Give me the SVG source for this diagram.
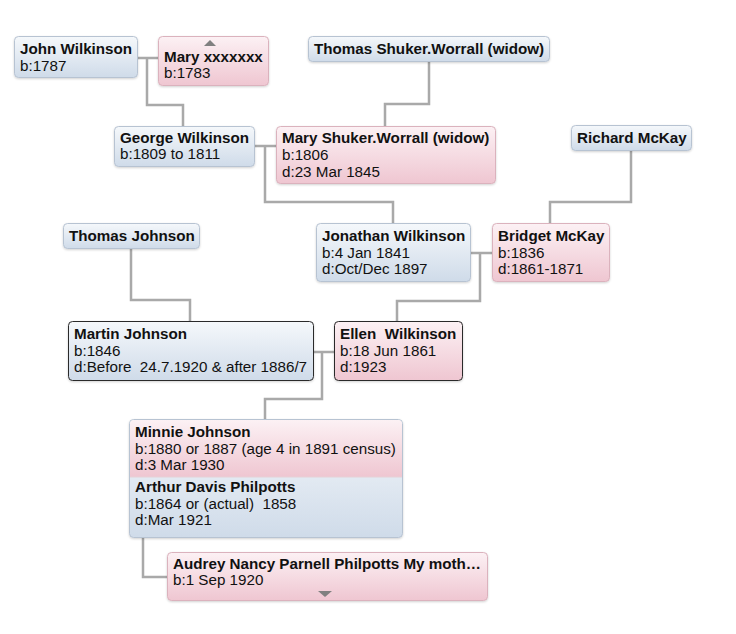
<svg xmlns="http://www.w3.org/2000/svg" width="736" height="634" viewBox="0 0 736 634">
<defs>
<linearGradient id="gb" x1="0" y1="0" x2="0" y2="1"><stop offset="0" stop-color="#f5f8fb"/><stop offset="1" stop-color="#cfdbe9"/></linearGradient>
<linearGradient id="gp" x1="0" y1="0" x2="0" y2="1"><stop offset="0" stop-color="#fcf1f4"/><stop offset="1" stop-color="#efc6d1"/></linearGradient>
<filter id="sh" x="-5%" y="-10%" width="110%" height="130%"><feDropShadow dx="0" dy="1" stdDeviation="0.8" flood-color="#000" flood-opacity="0.18"/></filter>
<style>
.b{fill:url(#gb);stroke:#b7c3d2;stroke-width:1;filter:url(#sh)}
.p{fill:url(#gp);stroke:#dbb2bd;stroke-width:1;filter:url(#sh)}
.sel{stroke:#2a2a2a}
text{font-family:"Liberation Sans",Arial,Helvetica,sans-serif;font-size:15.2px;fill:#111}
.n{font-weight:bold}
.c{fill:none;stroke:#a9a9a9;stroke-width:2.5}
.tri{fill:#808080}
</style>
</defs>
<rect width="736" height="634" fill="#ffffff"/>
<g id="connectors">
<path class="c" d="M137 58H158M147 58V105H183V126"/>
<path class="c" d="M429 62V104H385V126"/>
<path class="c" d="M254 146H276M265 146V202H393V223"/>
<path class="c" d="M631 151V202H550V223"/>
<path class="c" d="M470 253H492M480 253V301H397V321"/>
<path class="c" d="M131 249V300H190V321"/>
<path class="c" d="M313 352H334M322 352V399H265V419"/>
<path class="c" d="M143 538V577H167"/>
</g>
<g id="john"><rect class="b" x="14.5" y="36.5" width="123" height="41" rx="4"/><text x="20" y="54" class="n">John Wilkinson</text><text x="20" y="71">b:1787</text></g>
<g id="mary"><rect class="p" x="158.5" y="36.5" width="110" height="49" rx="4"/><path class="tri" d="M204 46L210 40L216 46Z"/><text x="164" y="62" class="n">Mary xxxxxxx</text><text x="164" y="78">b:1783</text></g>
<g id="thomas-shuker"><rect class="b" x="308.5" y="36.5" width="241" height="25" rx="4"/><text x="314" y="54" class="n">Thomas Shuker.Worrall (widow)</text></g>
<g id="george"><rect class="b" x="114.5" y="126.5" width="140" height="40" rx="4"/><text x="120" y="143" class="n">George Wilkinson</text><text x="120" y="159">b:1809 to 1811</text></g>
<g id="mary-shuker"><rect class="p" x="276.5" y="126.5" width="219" height="57" rx="4"/><text x="282" y="143" class="n">Mary Shuker.Worrall (widow)</text><text x="282" y="160">b:1806</text><text x="282" y="177">d:23 Mar 1845</text></g>
<g id="richard"><rect class="b" x="571.5" y="125.5" width="120" height="25" rx="4"/><text x="577" y="143" class="n">Richard McKay</text></g>
<g id="thomas-johnson"><rect class="b" x="63.5" y="223.5" width="136" height="25" rx="4"/><text x="69" y="241" class="n">Thomas Johnson</text></g>
<g id="jonathan"><rect class="b" x="316.5" y="223.5" width="154" height="58" rx="4"/><text x="322" y="241" class="n">Jonathan Wilkinson</text><text x="322" y="257.5">b:4 Jan 1841</text><text x="322" y="274">d:Oct/Dec 1897</text></g>
<g id="bridget"><rect class="p" x="492.5" y="223.5" width="117" height="58" rx="4"/><text x="498" y="241" class="n">Bridget McKay</text><text x="498" y="257.5">b:1836</text><text x="498" y="274">d:1861-1871</text></g>
<g id="martin"><rect class="b sel" x="68.5" y="321.5" width="245" height="59" rx="4"/><text x="74" y="339" class="n">Martin Johnson</text><text x="74" y="356">b:1846</text><text x="74" y="372" xml:space="preserve">d:Before  24.7.1920 &amp; after 1886/7</text></g>
<g id="ellen"><rect class="p sel" x="334.5" y="321.5" width="128" height="59" rx="4"/><text x="340" y="339" class="n" xml:space="preserve">Ellen  Wilkinson</text><text x="340" y="356">b:18 Jun 1861</text><text x="340" y="372">d:1923</text></g>
<g id="minnie-arthur">
<rect class="b" x="129.5" y="419.5" width="273" height="118" rx="4"/>
<path d="M130 477V424A4 4 0 0 1 134 420H398A4 4 0 0 1 402 424V477Z" fill="url(#gp)"/>
<path d="M130 477H402" stroke="#e6d0d6" stroke-width="1"/>
<text x="135" y="437" class="n">Minnie Johnson</text><text x="135" y="453.5">b:1880 or 1887 (age 4 in 1891 census)</text><text x="135" y="470">d:3 Mar 1930</text>
<text x="135" y="492" class="n">Arthur Davis Philpotts</text><text x="135" y="508.5" xml:space="preserve">b:1864 or (actual)  1858</text><text x="135" y="525">d:Mar 1921</text>
</g>
<g id="audrey"><rect class="p" x="167.5" y="552.5" width="320" height="48" rx="4"/><text x="173" y="569" class="n">Audrey Nancy Parnell Philpotts My moth…</text><text x="173" y="585">b:1 Sep 1920</text><path class="tri" d="M318 591H332L325 597Z"/></g>
</svg>
